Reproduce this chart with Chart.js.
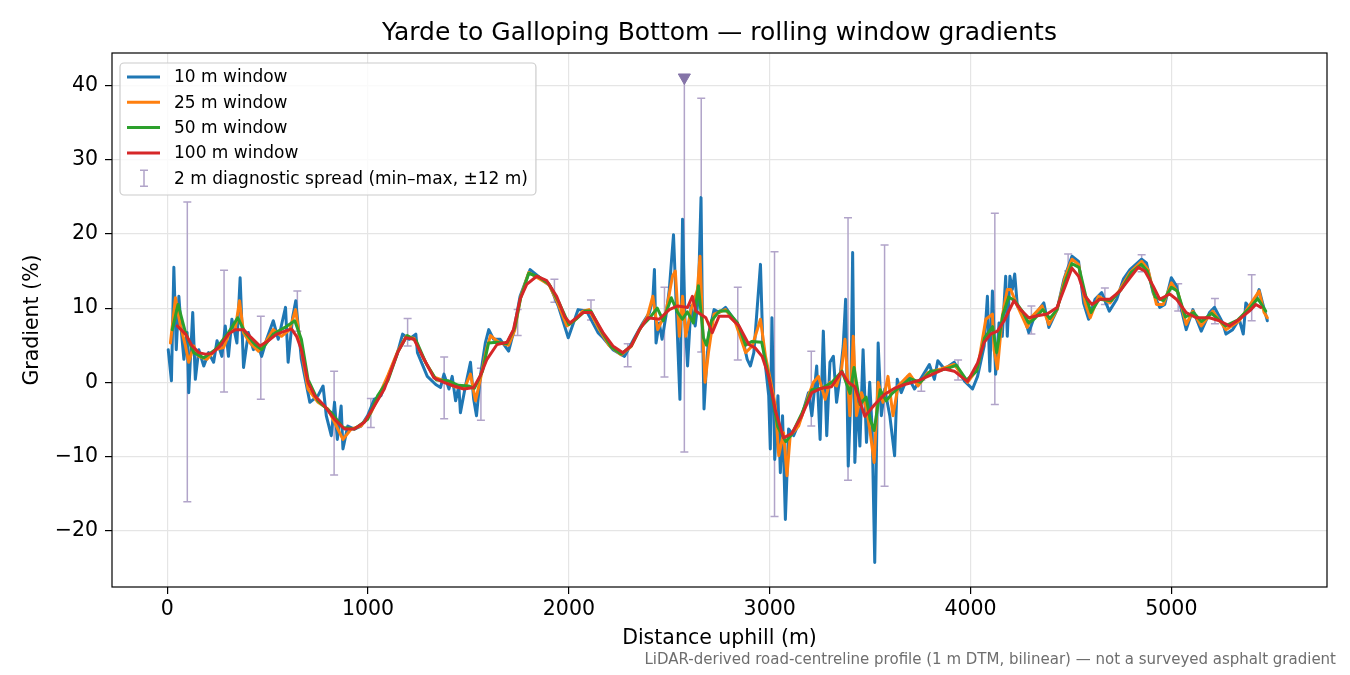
<!DOCTYPE html>
<html>
<head>
<meta charset="utf-8">
<title>Yarde to Galloping Bottom — rolling window gradients</title>
<script src="https://cdn.jsdelivr.net/npm/chart.js@4.4.1/dist/chart.umd.min.js"></script>
<style>
  html, body { margin: 0; padding: 0; background: #fff; }
  #wrap { width: 1350px; height: 675px; }
</style>
</head>
<body>
<div id="wrap"><canvas id="chart"></canvas></div>
<script>
// axis ticks
const xTicks = [0, 1000, 2000, 3000, 4000, 5000];
const yTicks = [-20, -10, 0, 10, 20, 30, 40];

// 10 m window
const dist10 = [5, 21, 33, 45, 58, 71, 83, 99, 107, 127, 140, 157, 182, 206, 231, 248, 272, 289, 305, 322,
  347, 363, 380, 404, 429, 454, 470, 495, 528, 553, 589, 602, 624, 640, 668, 710, 751, 776, 792, 817,
  833, 847, 866, 875, 899, 932, 965, 998, 1031, 1064, 1100, 1147, 1172, 1205, 1238, 1246, 1295, 1337, 1361, 1378,
  1403, 1419, 1436, 1452, 1460, 1485, 1510, 1526, 1540, 1559, 1584, 1601, 1625, 1658, 1700, 1724, 1757, 1807, 1856, 1906,
  1947, 1997, 2046, 2088, 2145, 2170, 2219, 2277, 2327, 2368, 2401, 2418, 2426, 2434, 2450, 2464, 2483, 2500, 2521, 2536,
  2553, 2566, 2578, 2591, 2608, 2629, 2644, 2658, 2665, 2673, 2685, 2698, 2723, 2748, 2780, 2822, 2855, 2888, 2904, 2921,
  2954, 2965, 2979, 2995, 3003, 3011, 3025, 3041, 3053, 3064, 3078, 3094, 3119, 3160, 3193, 3210, 3234, 3251, 3267, 3284,
  3300, 3317, 3333, 3350, 3366, 3378, 3391, 3404, 3413, 3424, 3437, 3449, 3465, 3482, 3498, 3510, 3523, 3540, 3556, 3573,
  3598, 3622, 3635, 3655, 3688, 3721, 3771, 3795, 3820, 3837, 3870, 3919, 3969, 4010, 4035, 4068, 4084, 4096, 4109, 4125,
  4142, 4158, 4175, 4183, 4196, 4208, 4220, 4233, 4266, 4290, 4323, 4365, 4390, 4431, 4465, 4505, 4538, 4563, 4588, 4620,
  4653, 4691, 4728, 4761, 4794, 4852, 4876, 4909, 4942, 4967, 5000, 5025, 5050, 5074, 5107, 5149, 5190, 5215, 5256, 5272,
  5305, 5338, 5358, 5371, 5396, 5421, 5437, 5454, 5478];
const grad10 = [4.4, 0.2, 15.5, 4.4, 11.6, 6.7, 3.1, 6.7, -1.4, 9.4, 0.4, 4.4, 2.2, 4.0, 2.7, 5.6, 3.5, 7.6, 3.5, 8.5,
  5.3, 14.1, 2.0, 6.7, 4.4, 4.9, 3.5, 5.8, 8.3, 5.8, 10.1, 2.7, 8.7, 11.0, 3.1, -2.7, -1.8, -0.5, -4.5, -7.2,
  -2.7, -7.7, -3.2, -9.0, -5.9, -6.3, -5.9, -4.5, -2.3, -1.8, 0.8, 4.0, 6.5, 5.8, 6.5, 4.0, 0.8, -0.3, -0.7, 1.1,
  -0.9, 0.8, -2.5, -0.5, -4.1, -0.5, 2.7, -2.3, -4.5, 0.8, 5.3, 7.1, 5.8, 5.8, 4.2, 6.7, 11.6, 15.2, 14.1, 13.0,
  10.3, 6.0, 9.8, 9.6, 6.7, 6.0, 4.4, 3.5, 6.0, 8.0, 9.4, 11.2, 15.2, 5.3, 8.0, 5.8, 8.9, 12.5, 19.9, 9.4,
  -2.3, 22.0, 8.5, 2.2, 10.3, 7.6, 11.2, 24.9, 8.5, -3.6, 2.2, 6.7, 9.8, 9.4, 10.1, 8.5, 7.1, 3.1, 2.2, 4.0,
  15.9, 5.8, 2.2, -1.8, -9.0, 8.7, -10.4, -1.8, -12.2, -4.5, -18.5, -6.3, -7.2, -4.5, -1.4, -4.5, 2.2, -7.7, 6.9, -7.2,
  2.7, 3.5, -2.7, 0.8, 4.9, 11.2, -11.3, -1.8, 17.5, -10.8, -1.8, -8.6, 4.4, -8.1, 0.0, -6.3, -24.3, 5.3, -4.5, -0.9,
  -4.5, -9.9, 0.4, -1.4, 0.8, -0.9, 1.3, 2.4, 0.4, 2.9, 1.8, 2.7, 0.2, -0.9, 0.8, 4.9, 11.6, 1.5, 12.3, 1.1,
  8.0, 6.2, 14.3, 6.2, 14.3, 12.5, 14.6, 10.3, 8.9, 6.7, 9.2, 10.7, 7.4, 9.8, 13.9, 17.0, 16.3, 10.7, 8.5, 11.2,
  12.1, 9.6, 11.2, 13.9, 15.2, 16.6, 16.1, 12.1, 10.1, 10.5, 14.1, 13.0, 9.8, 7.1, 9.8, 6.9, 9.4, 10.1, 8.0, 6.5,
  7.1, 8.5, 6.5, 10.7, 9.8, 11.2, 12.5, 10.7, 8.3];

// 25 m window
const dist25 = [16, 41, 66, 91, 107, 132, 157, 198, 239, 281, 313, 338, 360, 380, 412, 454, 487, 528, 569, 610,
  639, 668, 701, 751, 800, 833, 875, 916, 965, 1015, 1064, 1100, 1150, 1190, 1230, 1280, 1330, 1380, 1430, 1480,
  1510, 1535, 1560, 1590, 1610, 1650, 1700, 1730, 1760, 1800, 1850, 1900, 1940, 1990, 2030, 2070, 2100, 2150, 2200, 2260,
  2310, 2350, 2390, 2418, 2442, 2483, 2516, 2530, 2550, 2566, 2582, 2608, 2640, 2653, 2668, 2678, 2695, 2723, 2780, 2830,
  2880, 2913, 2954, 2979, 3003, 3028, 3045, 3069, 3086, 3102, 3144, 3193, 3218, 3243, 3276, 3300, 3333, 3358, 3375, 3399,
  3416, 3432, 3457, 3482, 3498, 3520, 3540, 3564, 3589, 3614, 3639, 3697, 3738, 3787, 3853, 3919, 3985, 4035, 4076, 4109,
  4117, 4134, 4158, 4183, 4200, 4233, 4282, 4307, 4356, 4390, 4431, 4472, 4505, 4538, 4571, 4596, 4637, 4695, 4744, 4794,
  4852, 4884, 4926, 4959, 5000, 5033, 5074, 5107, 5149, 5206, 5272, 5338, 5388, 5437, 5462, 5478];
const grad25 = [5.3, 11.4, 7.6, 4.9, 2.7, 4.9, 3.5, 3.1, 4.4, 4.7, 6.9, 7.1, 11.0, 6.7, 5.3, 4.2, 5.3, 7.1, 6.2, 7.1,
  9.8, 4.4, -0.9, -2.7, -3.6, -5.4, -7.7, -6.3, -5.9, -4.1, -1.2, 1.0, 4.3, 6.2, 5.9, 3.0, 0.7, 0.2, -0.6, -0.8,
  1.1, -2.5, 0.5, 4.5, 6.3, 5.4, 5.0, 7.0, 11.5, 14.8, 14.0, 13.2, 11.0, 7.6, 8.4, 9.6, 9.8, 7.2, 5.0, 3.7,
  4.8, 7.0, 8.8, 11.6, 7.1, 9.4, 14.3, 15.0, 6.2, 11.6, 6.2, 9.8, 12.5, 17.0, 5.8, 0.0, 4.0, 9.2, 9.8, 8.0,
  4.0, 4.9, 8.5, 3.5, 0.4, -3.2, -9.9, -6.8, -12.6, -7.2, -5.9, -1.8, 0.0, 0.8, -2.3, 0.0, -0.5, 1.8, 5.8, -4.5,
  6.2, -4.5, -1.4, -3.6, -6.3, -10.8, 0.0, -2.7, 0.8, -4.5, -0.5, 1.1, -0.5, 1.3, 1.8, 2.4, 0.0, 1.8, 8.5, 9.2,
  4.4, 1.8, 8.9, 12.5, 12.5, 10.3, 7.4, 8.9, 10.3, 7.8, 9.8, 14.3, 16.6, 15.9, 10.7, 8.7, 11.6, 10.7, 12.5, 14.8,
  16.3, 15.2, 10.5, 10.5, 13.4, 12.1, 7.8, 9.6, 7.6, 9.6, 7.1, 8.3, 10.3, 12.3, 9.4, 8.7];

// 50 m window
const dist50 = [25, 54, 91, 132, 182, 239, 305, 351, 388, 437, 470, 528, 586, 635, 668, 701, 751, 817, 875, 932,
  998, 1048, 1100, 1150, 1195, 1240, 1290, 1340, 1400, 1450, 1500, 1530, 1570, 1600, 1640, 1690, 1730, 1760, 1800, 1850,
  1900, 1950, 2000, 2040, 2080, 2110, 2160, 2210, 2260, 2310, 2360, 2400, 2440, 2470, 2510, 2540, 2565, 2590, 2620, 2645,
  2670, 2685, 2710, 2750, 2790, 2840, 2880, 2910, 2960, 3000, 3040, 3080, 3110, 3160, 3210, 3260, 3310, 3360, 3400, 3420,
  3450, 3480, 3500, 3520, 3550, 3580, 3610, 3640, 3700, 3750, 3800, 3850, 3900, 3930, 3980, 4030, 4070, 4110, 4130, 4160,
  4190, 4220, 4260, 4290, 4320, 4360, 4395, 4430, 4470, 4505, 4540, 4575, 4600, 4640, 4700, 4750, 4800, 4850, 4880, 4920,
  4960, 5000, 5030, 5070, 5110, 5150, 5200, 5270, 5330, 5390, 5430, 5470];
const grad50 = [7.1, 10.5, 6.7, 4.0, 3.3, 4.4, 6.7, 8.7, 6.7, 5.1, 4.4, 6.5, 7.4, 8.3, 5.8, 0.4, -2.5, -4.1, -6.1, -6.3,
  -5.0, -1.8, 0.3, 4.2, 6.3, 5.6, 2.5, 0.3, 0.2, -0.4, -0.5, -0.8, 1.5, 5.3, 5.4, 5.2, 7.3, 11.4, 14.7, 14.2,
  13.3, 10.8, 7.8, 8.6, 9.6, 9.6, 7.0, 4.8, 3.8, 4.9, 7.5, 8.6, 10.0, 8.3, 11.4, 9.5, 8.5, 9.5, 8.0, 13.0,
  6.0, 5.0, 8.3, 9.6, 9.6, 8.0, 5.0, 5.5, 5.4, 0.0, -6.0, -8.0, -7.0, -4.2, -1.0, -0.8, 0.0, 1.5, -1.5, 2.0,
  -3.0, -2.0, -5.0, -6.5, -1.0, -2.5, -1.5, -0.8, 0.5, 0.0, 1.5, 1.6, 2.0, 2.3, 0.3, 1.5, 6.0, 7.5, 4.0, 9.0,
  11.5, 11.0, 9.5, 8.0, 8.6, 9.8, 8.6, 9.8, 13.5, 16.0, 15.5, 11.5, 9.4, 11.2, 11.0, 12.5, 14.8, 15.9, 15.0, 11.5,
  11.0, 12.8, 12.3, 8.8, 9.4, 8.2, 9.3, 7.6, 8.4, 10.0, 11.3, 9.6];

// 100 m window
const dist100 = [50, 91, 124, 157, 190, 223, 264, 305, 338, 380, 412, 462, 503, 545, 586, 619, 644, 668, 701, 734,
  784, 833, 883, 932, 982, 1031, 1081, 1147, 1188, 1229, 1279, 1328, 1378, 1427, 1477, 1526, 1559, 1592, 1642, 1692,
  1724, 1757, 1790, 1840, 1890, 1939, 1980, 2005, 2071, 2112, 2170, 2219, 2269, 2310, 2351, 2393, 2450, 2500, 2541, 2591,
  2615, 2632, 2682, 2714, 2748, 2797, 2847, 2896, 2929, 2962, 2995, 3028, 3069, 3110, 3160, 3210, 3259, 3308, 3358, 3391,
  3424, 3474, 3523, 3573, 3622, 3672, 3738, 3804, 3870, 3919, 3985, 4035, 4068, 4100, 4134, 4167, 4216, 4249, 4290, 4340,
  4381, 4431, 4472, 4505, 4538, 4571, 4604, 4645, 4695, 4744, 4794, 4835, 4868, 4909, 4942, 4992, 5025, 5074, 5124, 5190,
  5239, 5289, 5338, 5388, 5421, 5446];
const grad100 = [7.6, 6.5, 4.9, 4.0, 3.8, 3.9, 4.9, 6.5, 7.1, 7.1, 6.2, 4.9, 5.6, 6.5, 6.9, 7.2, 6.2, 4.4, 0.0, -1.8,
  -3.2, -5.0, -6.3, -6.3, -5.4, -3.2, -0.9, 4.0, 6.0, 5.8, 3.1, 0.6, 0.0, -0.5, -0.9, -0.7, 0.9, 3.1, 5.1, 5.4,
  7.1, 11.2, 13.2, 14.3, 13.7, 11.6, 8.8, 8.0, 9.4, 9.4, 6.7, 4.9, 4.0, 4.9, 7.1, 8.7, 8.5, 9.8, 10.3, 10.1,
  11.6, 9.6, 8.7, 6.7, 8.9, 8.9, 7.6, 5.1, 4.6, 3.5, 0.8, -3.8, -7.5, -6.9, -4.5, -1.4, -0.8, -0.6, 1.4, 0.0,
  -0.6, -4.6, -3.0, -1.6, -0.8, -0.3, 0.2, 1.0, 1.8, 1.5, 0.1, 2.6, 5.4, 6.5, 6.9, 8.3, 11.0, 9.8, 8.7, 9.0,
  9.2, 10.1, 13.0, 15.4, 14.3, 11.6, 10.5, 11.2, 11.2, 12.3, 14.1, 15.5, 15.0, 13.0, 11.2, 11.9, 11.2, 9.4, 8.7, 8.7,
  8.3, 7.6, 8.5, 9.6, 10.5, 10.1];

// 2 m diagnostic spread (min–max within ±12 m)
const spreadAt  = [100, 283, 466, 648, 831, 1014, 1197, 1379, 1562, 1745, 1928, 2110, 2293, 2476, 2575, 2659,
  2841, 3024, 3207, 3390, 3572, 3755, 3938, 4121, 4303, 4486, 4669, 4852, 5034, 5217, 5400];
const spreadMin = [-16.1, -1.3, -2.3, 6.9, -12.5, -6.1, 4.9, -4.9, -5.1, 6.3, 10.8, 8.4, 2.1, 0.7, -9.4, 4.1,
  3.0, -18.1, -5.9, -13.2, -14.0, -1.2, 0.3, -3.0, 6.5, 15.0, 10.5, 14.9, 9.6, 7.9, 8.3];
const spreadMax = [24.3, 15.1, 8.9, 12.3, 1.5, -2.2, 8.6, 3.4, 1.9, 9.8, 13.9, 11.1, 5.2, 12.8, 41.1, 38.3,
  12.8, 17.6, 4.2, 22.2, 18.5, 0.3, 3.0, 22.8, 10.3, 17.3, 12.7, 17.2, 13.3, 11.3, 14.5];

// steepest 2 m sample, flagged with a marker
const peakAt = [2575];
const peakVal = [41.1];

const seriesLabels = ['10 m window', '25 m window', '50 m window', '100 m window'];
const seriesColors = ['#1f77b4', '#ff7f0e', '#2ca02c', '#d62728'];
const spreadLabel = '2 m diagnostic spread (min\u2013max, \u00b112 m)';
const spreadColor = '#b1a4c9';
const peakColor = '#8574a8';
const FONT = 'DejaVu Sans';

function pairs(xs, ys) {
  return xs.map((x, i) => ({ x: x, y: ys[i] }));
}

// error bars behind the lines
const spreadPlugin = {
  id: 'spread',
  beforeDatasetsDraw(chart) {
    const { ctx, chartArea: a, scales } = chart;
    ctx.save();
    ctx.beginPath();
    ctx.rect(a.left, a.top, a.right - a.left, a.bottom - a.top);
    ctx.clip();
    ctx.strokeStyle = spreadColor;
    ctx.lineWidth = 1.5;
    spreadAt.forEach((d, i) => {
      const px = scales.x.getPixelForValue(d);
      const top = scales.y.getPixelForValue(spreadMax[i]);
      const bot = scales.y.getPixelForValue(spreadMin[i]);
      ctx.beginPath();
      ctx.moveTo(px, top);
      ctx.lineTo(px, bot);
      ctx.moveTo(px - 4, bot);
      ctx.lineTo(px + 4, bot);
      if (peakAt.indexOf(d) < 0) {
        ctx.moveTo(px - 4, top);
        ctx.lineTo(px + 4, top);
      }
      ctx.stroke();
    });
    ctx.restore();
  }
};

// matplotlib-like frame and legend box
const framePlugin = {
  id: 'frame',
  afterDraw(chart) {
    const { ctx, chartArea: a } = chart;
    ctx.save();
    ctx.strokeStyle = '#000';
    ctx.lineWidth = 1.2;
    ctx.strokeRect(a.left, a.top, a.right - a.left, a.bottom - a.top);

    ctx.font = '17px "' + FONT + '"';
    const labels = seriesLabels.concat([spreadLabel]);
    const textW = Math.max.apply(null, labels.map(t => ctx.measureText(t).width));
    const bx = a.left + 8, by = a.top + 10;
    const bw = 54 + textW + 8, bh = 132;
    ctx.beginPath();
    ctx.roundRect(bx, by, bw, bh, 4);
    ctx.fillStyle = 'rgba(255,255,255,0.8)';
    ctx.fill();
    ctx.strokeStyle = '#cccccc';
    ctx.lineWidth = 1.2;
    ctx.stroke();

    ctx.textBaseline = 'middle';
    ctx.textAlign = 'left';
    labels.forEach((t, i) => {
      const ry = by + 14 + i * 25.3;
      if (i < seriesLabels.length) {
        ctx.strokeStyle = seriesColors[i];
        ctx.lineWidth = 3;
        ctx.beginPath();
        ctx.moveTo(bx + 7, ry);
        ctx.lineTo(bx + 40, ry);
        ctx.stroke();
      } else {
        ctx.strokeStyle = spreadColor;
        ctx.lineWidth = 1.5;
        ctx.beginPath();
        ctx.moveTo(bx + 24, ry - 8); ctx.lineTo(bx + 24, ry + 8);
        ctx.moveTo(bx + 20, ry - 8); ctx.lineTo(bx + 28, ry - 8);
        ctx.moveTo(bx + 20, ry + 8); ctx.lineTo(bx + 28, ry + 8);
        ctx.stroke();
      }
      ctx.fillStyle = '#000';
      ctx.fillText(t, bx + 54, ry + 1);
    });
    ctx.restore();
  }
};

const lineSets = [
  [dist10, grad10], [dist25, grad25], [dist50, grad50], [dist100, grad100]
].map((s, i) => ({
  type: 'line',
  label: seriesLabels[i],
  data: pairs(s[0], s[1]),
  borderColor: seriesColors[i],
  backgroundColor: seriesColors[i],
  borderWidth: 3,
  borderJoinStyle: 'round',
  borderCapStyle: 'round',
  pointRadius: 0,
  tension: 0,
  fill: false,
  order: 3 - i
}));

const peakSet = {
  type: 'scatter',
  label: 'peak',
  data: pairs(peakAt, peakVal),
  pointStyle: 'triangle',
  rotation: 180,
  radius: 7,
  backgroundColor: peakColor,
  borderColor: peakColor,
  borderWidth: 1,
  order: -1
};

const tickFont = { family: FONT, size: 20.5 };
const gridStyle = { color: '#e5e5e5', lineWidth: 1.2, tickColor: '#000', tickLength: 7, tickWidth: 1.2 };

new Chart(document.getElementById('chart'), {
  data: { datasets: lineSets.concat([peakSet]) },
  options: {
    responsive: true,
    maintainAspectRatio: false,
    animation: false,
    layout: { padding: { left: 0, right: 14, top: 0, bottom: 0 } },
    plugins: {
      legend: { display: false },
      tooltip: { enabled: false },
      title: {
        display: true,
        fullSize: false,
        text: 'Yarde to Galloping Bottom \u2014 rolling window gradients',
        color: '#000',
        font: { family: FONT, size: 25, weight: 'normal' },
        padding: { top: 18, bottom: 5 }
      },
      subtitle: {
        display: true,
        position: 'bottom',
        align: 'end',
        text: 'LiDAR-derived road-centreline profile (1 m DTM, bilinear) \u2014 not a surveyed asphalt gradient',
        color: '#6e6e6e',
        font: { family: FONT, size: 15, weight: 'normal' },
        padding: { top: 0, bottom: 6 }
      }
    },
    scales: {
      x: {
        type: 'linear',
        min: -275,
        max: 5775,
        afterBuildTicks: s => { s.ticks = xTicks.map(v => ({ value: v })); },
        afterFit: s => { s.height = 64; },
        ticks: { font: tickFont, color: '#000', padding: 3, maxRotation: 0, callback: v => String(v) },
        grid: gridStyle,
        border: { display: false },
        title: {
          display: true,
          text: 'Distance uphill (m)',
          color: '#000',
          font: { family: FONT, size: 20.5 },
          padding: { top: 0, bottom: 0 }
        }
      },
      y: {
        type: 'linear',
        min: -27.6,
        max: 44.4,
        afterBuildTicks: s => { s.ticks = yTicks.map(v => ({ value: v })); },
        afterFit: s => { s.width = 112; },
        ticks: {
          font: tickFont,
          color: '#000',
          padding: 7,
          callback: v => String(v).replace('-', '\u2212')
        },
        grid: gridStyle,
        border: { display: false },
        title: {
          display: true,
          text: 'Gradient (%)',
          color: '#000',
          font: { family: FONT, size: 20.5 },
          padding: { top: 20.5, bottom: 0 }
        }
      },
      // empty strip on the right so the footnote can run past the plot frame
      yPad: {
        type: 'linear',
        position: 'right',
        display: true,
        afterFit: s => { s.width = 9; },
        ticks: { display: false },
        grid: { display: false },
        border: { display: false }
      }
    }
  },
  plugins: [spreadPlugin, framePlugin]
});
</script>
</body>
</html>
